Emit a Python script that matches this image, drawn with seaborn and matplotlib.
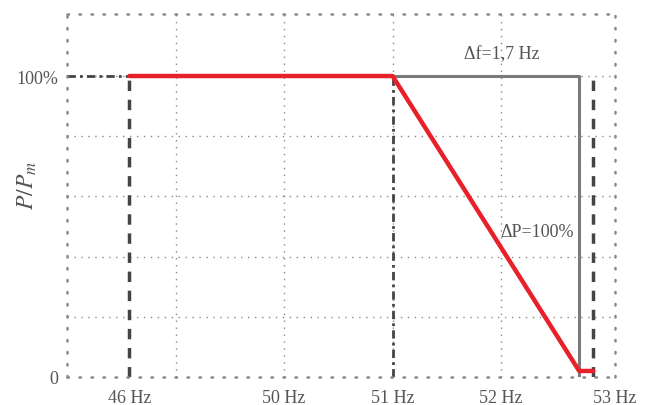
import pandas as pd
import matplotlib.pyplot as plt
import seaborn as sb

# red characteristic: P/Pm vs frequency position on the schematic axis
curve_f = [48.575, 51.0, 52.72, 52.85]
curve_p = [100, 100, 2, 2]

# grey delta-f bracket
delta_f = [51.0, 52.72, 52.72]
delta_p = [100, 100, 0]

# tick labels (schematic positions, not to scale)
tick_pos = [48.575, 50, 51, 52, 53.05]
tick_lab = ['46 Hz', '50 Hz', '51 Hz', '52 Hz', '53 Hz']
grid_x = [49, 50, 51, 52]
grid_y = [20, 40, 60, 80, 100]

# dashed markers at 46 Hz, 51 Hz and 53 Hz
mark_46 = 48.575
mark_51 = 51.0
mark_53 = 52.85

sb.set_style('white')
plt.rcParams['font.family'] = ['Liberation Serif', 'DejaVu Serif']
plt.rcParams['mathtext.fontset'] = 'stix'

txt = '#555555'
gcol = '#888888'

fig = plt.figure(figsize=(6.53, 4.06), dpi=100)
ax = fig.add_axes([0.1026, 0.069, 0.8392, 0.894])

for gx in grid_x:
    ax.axvline(gx, color=gcol, lw=1.0, ls=(0, (1, 4)), zorder=0)
for gy in grid_y:
    ax.axhline(gy, color=gcol, lw=1.0, ls=(0, (1, 4)), zorder=0)

ax.plot([mark_46, mark_46], [0, 100], color='#444444', lw=2.5, ls=(0, (3, 2.5)), zorder=2)
ax.plot([48.0, mark_46], [100, 100], color='#444444', lw=2.0, ls=(0, (3, 1.5, 1, 1.5)), zorder=2)
ax.plot([mark_51, mark_51], [0, 100], color='#444444', lw=2.0, ls=(0, (3, 1.5, 1, 1.5)), zorder=2)
ax.plot([mark_53, mark_53], [0, 99], color='#444444', lw=2.5, ls=(0, (3, 2.5)), zorder=2)

df_g = pd.DataFrame({'f': delta_f, 'p': delta_p})
sb.lineplot(data=df_g, x='f', y='p', sort=False, estimator=None, color='#7a7a7a', lw=2.2, ax=ax, zorder=3)
df_r = pd.DataFrame({'f': curve_f, 'p': curve_p})
sb.lineplot(data=df_r, x='f', y='p', sort=False, estimator=None, color='#e8202a', lw=3.2, ax=ax, zorder=4)

ax.text(52.01, 107.5, 'Δf=1,7 Hz', color=txt, fontsize=13, ha='center', va='center')
ax.text(52.33, 48.5, 'ΔP=100%', color=txt, fontsize=13, ha='center', va='center')

ax.set_xlim(48, 53)
ax.set_ylim(0, 120.6)
ax.set_xticks(tick_pos)
ax.set_xticklabels(tick_lab)
ax.set_yticks([0, 100])
ax.set_yticklabels(['0', '100%'])
ax.tick_params(axis='x', length=0, labelsize=13, colors=txt, pad=9)
ax.tick_params(axis='y', length=0, labelsize=13, colors=txt, pad=6)
ax.set_xlabel('')
ax.set_ylabel('$P/P_m$', fontsize=17, color=txt)
ax.yaxis.set_label_coords(-0.052, 0.53)

for s in ax.spines.values():
    s.set_visible(True)
    s.set_color(gcol)
    s.set_linewidth(1.8)
    s.set_linestyle((0, (0.6, 4.2)))
    s.set_capstyle('round')

fig.savefig('out.png', dpi=100)
